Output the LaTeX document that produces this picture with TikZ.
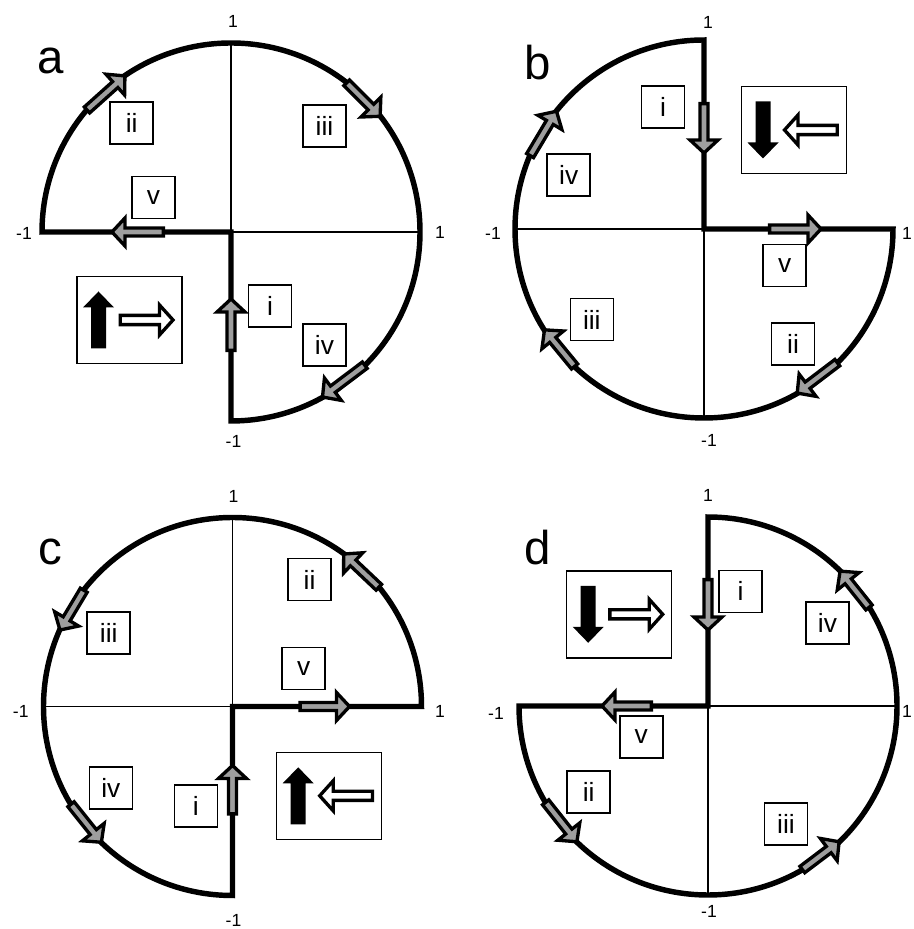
\documentclass[tikz,border=0pt]{standalone}
\usepackage{fontspec}
\setmainfont{Liberation Sans}
\definecolor{arrowgray}{RGB}{158,158,158}
\def\crad{189}
% gray block arrow drawn as a chord between two angles on the rim
\newcommand\arcarrow[2]{%
  \pgfmathsetmacro\aMid{(#1+#2)/2}%
  \pgfmathsetmacro\aDir{(#2>#1) ? (\aMid+90) : (\aMid-90)}%
  \pgfmathsetmacro\aLen{2*\crad*sin(abs(#2-#1)/2)}%
  \pic[rotate=\aDir] at (#1:\crad) {garrow=\aLen};%
}
\begin{document}
\begin{tikzpicture}[x=0.02cm, y=0.02cm,
  rim/.style={line width=3.1pt, line join=miter},
  axis/.style={line width=0.6pt},
  tag/.style={draw, line width=0.85pt, minimum width=0.86cm, minimum height=0.84cm,
    inner sep=0pt, font=\fontsize{15}{18}\selectfont},
  legendbox/.style={draw, line width=0.85pt, minimum width=2.1cm, minimum height=1.74cm, inner sep=0pt},
  tick/.style={font=\fontsize{10}{12}\selectfont, inner sep=0pt},
  panel/.style={font=\fontsize{27}{32}\selectfont, inner sep=0pt},
  garrow/.pic={
    \draw[line width=1.9pt, fill=arrowgray, line join=miter, miter limit=10]
      (1.6,-4) -- ({#1-15},-4) -- ({#1-15},-14) -- ({#1-2},0) -- ({#1-15},14)
      -- ({#1-15},4) -- (1.6,4) -- cycle;
  },
  barrow/.pic={
    \fill (0,-7.5) -- (41,-7.5) -- (41,-15.5) -- (57,0) -- (41,15.5) -- (41,7.5) -- (0,7.5) -- cycle;
  },
  warrow/.pic={
    \draw[line width=1.9pt, fill=white, line join=miter, miter limit=10]
      (1.7,-4.6) -- (41,-4.6) -- (41,-15) -- (54.5,0) -- (41,15) -- (41,4.6) -- (1.7,4.6) -- cycle;
  },
]
\useasboundingbox (0,0) rectangle (913,929);

% ---------------- panel a ----------------
\begin{scope}[shift={(231,697)}]
  \draw[axis] (0,0) -- (0,\crad) (0,0) -- (\crad,0);
  \draw[rim] (-\crad,0) arc[start angle=180, end angle=-90, radius=\crad] -- (0,0) -- cycle;
  \pic[rotate=90] at (0,-120) {garrow=55};
  \pic[rotate=180] at (-66,0) {garrow=55};
  \arcarrow{140.2}{123.6}
  \arcarrow{52.7}{37.2}
  \arcarrow{-44.4}{-61.6}
  \node[tag] (a-i) at (39,-74) {i};
  \node[tag] (a-ii) at (-99.3,109) {ii};
  \node[tag] (a-iii) at (93.5,106) {iii};
  \node[tag] (a-iv) at (93.5,-113) {iv};
  \node[tag] (a-v) at (-77.5,34.5) {v};
  \node[legendbox] (a-key) at (-101.5,-88) {};
  \pic[rotate=90] at (-132.5,-116.5) {barrow};
  \pic at (-112.5,-88) {warrow};
  \node[panel] (a-name) at (-180,171) {a};
  \node[tick] (a-top) at (2,211) {1};
  \node[tick] (a-right) at (209,0) {1};
  \node[tick] (a-left) at (-207,-1) {-1};
  \node[tick] (a-bottom) at (2.5,-209) {-1};
\end{scope}

% ---------------- panel b ----------------
\begin{scope}[shift={(704,700)}]
  \draw[axis] (0,0) -- (-\crad,0) (0,0) -- (0,-\crad);
  \draw[rim] (0,\crad) -- (0,0) -- (\crad,0) arc[start angle=0, end angle=-270, radius=\crad] -- cycle;
  \pic[rotate=-90] at (0,127) {garrow=53};
  \pic at (64,0) {garrow=55};
  \arcarrow{-44.6}{-61}
  \arcarrow{-132.8}{-148.3}
  \arcarrow{157.6}{140.8}
  \node[tag] (b-i) at (-41,122) {i};
  \node[tag] (b-ii) at (89,-115) {ii};
  \node[tag] (b-iii) at (-112.2,-90.5) {iii};
  \node[tag] (b-iv) at (-135.3,54) {iv};
  \node[tag] (b-v) at (80.7,-36.5) {v};
  \node[legendbox] (b-key) at (90,99) {};
  \pic[rotate=-90] at (59,127.5) {barrow};
  \pic[rotate=180] at (135,99) {warrow};
  \node[panel] (b-name) at (-166,166) {b};
  \node[tick] (b-top) at (4,207) {1};
  \node[tick] (b-right) at (203,-4) {1};
  \node[tick] (b-left) at (-211,-4) {-1};
  \node[tick] (b-bottom) at (5,-211) {-1};
\end{scope}

% ---------------- panel c ----------------
\begin{scope}[shift={(232.5,222.5)}]
  \draw[axis] (0,0) -- (0,\crad) (0,0) -- (-\crad,0);
  \draw[rim] (0,-\crad) -- (0,0) -- (\crad,0) arc[start angle=0, end angle=270, radius=\crad] -- cycle;
  \pic[rotate=90] at (0,-109) {garrow=52};
  \pic at (66,0) {garrow=53};
  \arcarrow{38.7}{54.5}
  \arcarrow{141.5}{156.7}
  \arcarrow{-149.3}{-133.4}
  \node[tag] (c-i) at (-36.7,-99.7) {i};
  \node[tag] (c-ii) at (77,126.8) {ii};
  \node[tag] (c-iii) at (-123.8,73.7) {iii};
  \node[tag] (c-iv) at (-121.7,-81.3) {iv};
  \node[tag] (c-v) at (71.2,37.8) {v};
  \node[legendbox] (c-key) at (96.7,-89.3) {};
  \pic[rotate=90] at (65.7,-117.8) {barrow};
  \pic[rotate=180] at (141.7,-89.3) {warrow};
  \node[panel] (c-name) at (-182,155) {c};
  \node[tick] (c-top) at (1,210) {1};
  \node[tick] (c-right) at (207.5,-5) {1};
  \node[tick] (c-left) at (-211.7,-5) {-1};
  \node[tick] (c-bottom) at (1,-213.5) {-1};
\end{scope}

% ---------------- panel d ----------------
\begin{scope}[shift={(708,223)}]
  \draw[axis] (0,0) -- (\crad,0) (0,0) -- (0,-\crad);
  \draw[rim] (0,\crad) -- (0,0) -- (-\crad,0) arc[start angle=180, end angle=450, radius=\crad] -- cycle;
  \pic[rotate=-90] at (0,128) {garrow=54};
  \pic[rotate=180] at (-55,0) {garrow=53};
  \arcarrow{-149.8}{-133.4}
  \arcarrow{-60.5}{-45.4}
  \arcarrow{31}{46.2}
  \node[tag] (d-i) at (32.5,114.7) {i};
  \node[tag] (d-ii) at (-119.3,-86.2) {ii};
  \node[tag] (d-iii) at (78,-118.2) {iii};
  \node[tag] (d-iv) at (119.5,83.2) {iv};
  \node[tag] (d-v) at (-66.7,-30.8) {v};
  \node[legendbox] (d-key) at (-88.8,91.7) {};
  \pic[rotate=-90] at (-119.8,120.2) {barrow};
  \pic at (-99.8,91.7) {warrow};
  \node[panel] (d-name) at (-170,158) {d};
  \node[tick] (d-top) at (0,211) {1};
  \node[tick] (d-right) at (199,-5) {1};
  \node[tick] (d-left) at (-212,-7) {-1};
  \node[tick] (d-bottom) at (1,-205) {-1};
\end{scope}
\end{tikzpicture}
\end{document}
